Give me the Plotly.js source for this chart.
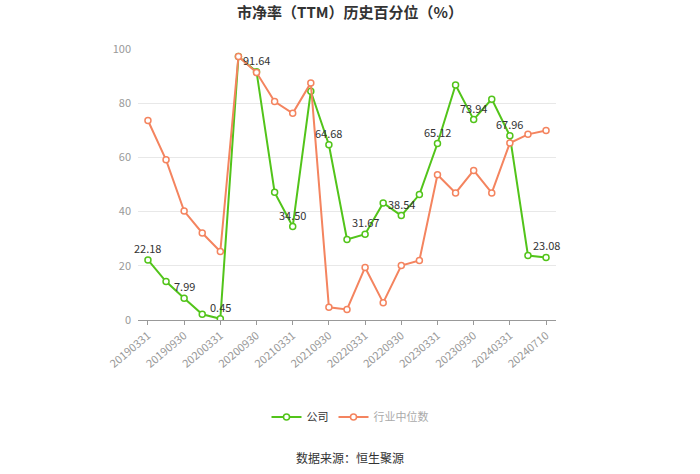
<!DOCTYPE html>
<html>
<head>
<meta charset="utf-8">
<script src="https://cdn.plot.ly/plotly-3.0.1.min.js"></script>
<style>html,body{margin:0;padding:0;background:#fff;}#chart{width:700px;height:474px;}</style>
</head>
<body>
<div id="chart"></div>
<script>
var dates = ["20190331","20190630","20190930","20191231","20200331","20200630","20200930","20201231","20210331","20210630","20210930","20211231","20220331","20220630","20220930","20221231","20230331","20230630","20230930","20231231","20240331","20240630","20240710"];
var companyValues = [22.18,14.2,7.99,2.1,0.45,97.2,91.64,47.1,34.50,84.4,64.68,29.7,31.67,43.2,38.54,46.3,65.12,86.7,73.94,81.5,67.96,23.8,23.08];
var industryValues = [73.6,59.1,40.2,32.1,25.3,97.2,91.3,80.6,76.3,87.5,4.7,3.9,19.4,6.4,20.1,22.0,53.6,46.9,55.2,46.9,65.3,68.5,69.9];
var tickLabels = ["20190331","20190930","20200331","20200930","20210331","20210930","20220331","20220930","20230331","20230930","20240331","20240710"];
var labelIdx = [0,2,4,6,8,10,12,14,16,18,20,22];

var green = "#52c41a", orange = "#f4845f";

var traces = [
  {x: dates, y: companyValues, type: "scatter", mode: "lines+markers", name: "公司",
   line: {color: green, width: 2}, marker: {symbol: "circle", size: 6, color: "#fff", line: {color: green, width: 1.5}}},
  {x: dates, y: industryValues, type: "scatter", mode: "lines+markers", name: "<span style='color:#aaa'>行业中位数</span>",
   line: {color: orange, width: 2}, marker: {symbol: "circle", size: 6, color: "#fff", line: {color: orange, width: 1.5}}}
];

var annotations = labelIdx.map(function(i){
  return {x: i, y: companyValues[i], xref: "x", yref: "y", text: companyValues[i].toFixed(2),
          showarrow: false, yshift: 12, xanchor: "center", yanchor: "middle",
          font: {size: 11, color: "#333"}};
});
annotations.push({text: "数据来源：恒生聚源", xref: "paper", yref: "paper", x: (350-138)/418, xanchor: "center", y: (320-457)/271, yanchor: "middle",
                  showarrow: false, font: {size: 12, color: "#333"}});

var layout = {
  width: 700, height: 474,
  margin: {l: 138, r: 144, t: 49, b: 154},
  paper_bgcolor: "#fff", plot_bgcolor: "#fff",
  font: {family: "Noto Sans CJK SC, sans-serif", color: "#999", size: 11},
  title: {text: "<b>市净率（TTM）历史百分位（%）</b>", x: 0.5, xanchor: "center", xref: "container", y: 0.973, yanchor: "middle", yref: "container",
          font: {size: 15, color: "#333"}},
  xaxis: {type: "category", categoryorder: "array", categoryarray: dates, range: [-0.55, 22.55],
          tickmode: "array", tickvals: tickLabels, ticktext: tickLabels, tickangle: -40,
          showline: true, linecolor: "#999", linewidth: 1, ticks: "outside", ticklen: 4, tickcolor: "#999",
          showgrid: false, zeroline: false, tickfont: {size: 11, color: "#999"}},
  yaxis: {range: [0, 100], tickvals: [0,20,40,60,80,100], showgrid: true, gridcolor: "#e8e8e8", gridwidth: 1,
          zeroline: false, showline: false, ticks: "", tickfont: {size: 11, color: "#999"}, ticklabelstandoff: 6},
  showlegend: true,
  legend: {orientation: "h", x: 0.5, xanchor: "center", xref: "container", y: 0.12, yanchor: "middle", yref: "container",
           font: {size: 11, color: "#333"}, itemwidth: 30},
  annotations: annotations
};

Plotly.newPlot("chart", traces, layout, {displayModeBar: false, staticPlot: true});
</script>
</body>
</html>
